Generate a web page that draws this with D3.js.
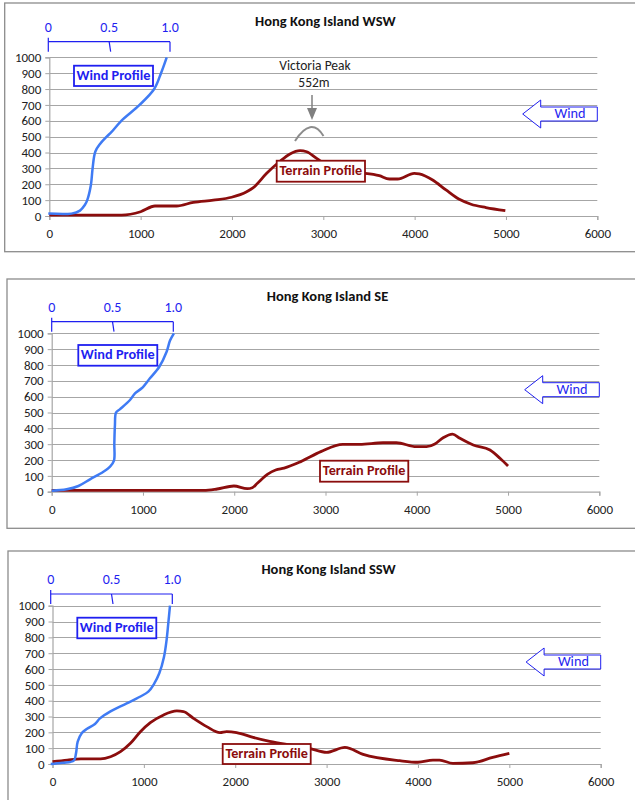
<!DOCTYPE html>
<html>
<head>
<meta charset="utf-8">
<script src="https://cdn.jsdelivr.net/npm/d3@7"></script>
<style>
  html, body { margin: 0; padding: 0; background: #fff; }
  svg { display: block; font-family: Carlito, Lato, "Liberation Sans", sans-serif; }
</style>
</head>
<body>
<svg id="chart" width="635" height="800"></svg>
<script>
// ---------------- DATA ----------------
const panelTitles = ["Hong Kong Island WSW", "Hong Kong Island SE", "Hong Kong Island SSW"];
const xTicks = [0, 1000, 2000, 3000, 4000, 5000, 6000];
const yTicks = [0, 100, 200, 300, 400, 500, 600, 700, 800, 900, 1000];
const windTicks = [0, 0.5, 1.0];
const windTickLabels = ["0", "0.5", "1.0"];

// wind profiles: [normalised speed, height m]
const windWSW = [[0,15],[0.19,15],[0.26,34],[0.30,69],[0.32,100],[0.35,195],[0.364,300],[0.386,405],[0.425,454],[0.48,500],[0.52,530],[0.60,600],[0.75,700],[0.87,800],[0.926,900],[0.973,1000]];
const windSE = [[0,6],[0.123,15],[0.22,36],[0.315,78],[0.425,126],[0.48,158],[0.512,196],[0.515,305],[0.52,420],[0.529,499],[0.56,520],[0.644,579],[0.685,621],[0.74,653],[0.808,716],[0.885,789],[0.945,884],[0.973,954],[1.005,1000]];
const windSSW = [[0,0],[0.10,8],[0.19,21],[0.208,67],[0.222,141],[0.255,194],[0.296,221],[0.364,253],[0.405,288],[0.488,331],[0.625,383],[0.734,425],[0.803,457],[0.849,505],[0.893,573],[0.932,678],[0.953,783],[0.967,888],[0.981,1000]];

// terrain profiles: [distance m, elevation m]
const terrainWSW = [[0,6],[400,6],[792,6],[1000,27],[1157,63],[1394,63],[1577,86],[1796,100],[1996,118],[2161,153],[2234,179],[2380,269],[2526,345],[2635,391],[2745,412],[2818,405],[2927,363],[3100,300],[3300,275],[3449,269],[3613,254],[3723,233],[3814,233],[3996,269],[4051,265],[4197,227],[4343,164],[4489,105],[4617,74],[4781,53],[4993,34]];
const terrainSE = [[0,8],[800,8],[1667,8],[1813,17],[1996,36],[2143,19],[2198,25],[2253,53],[2363,109],[2454,137],[2546,149],[2729,190],[2949,253],[3190,299],[3374,299],[3630,309],[3777,309],[3996,284],[4106,284],[4198,301],[4289,341],[4392,364],[4473,337],[4619,295],[4802,263],[4912,211],[5000,162]];
const terrainSSW = [[0,15],[163,25],[309,32],[526,32],[635,46],[744,78],[853,131],[962,204],[1071,261],[1216,310],[1361,335],[1434,331],[1543,288],[1688,236],[1833,198],[1906,204],[2015,198],[2196,168],[2377,143],[2595,120],[2813,99],[3000,74],[3200,105],[3400,61],[3800,21],[4000,11],[4164,25],[4236,25],[4382,4],[4600,8],[4818,42],[5000,67]];

const peakLabel = ["Victoria Peak", "552m"];

// ---------------- LAYOUT ----------------
const panels = [
  { title: panelTitles[0], wind: windWSW, terrain: terrainWSW,
    box: {x: 4.7, y: 3, h: 248.7}, px0: 49.3, px1: 597.3, py0: 216, py1: 57.3,
    titleY: 22, wAxisY: 41.7, wx0: 48.3, wx1: 170,
    windBox: {x: 74, y: 65.7, w: 79, h: 20.3},
    terrBox: {x: 276.7, y: 160.7, w: 88.3, h: 21},
    peak: true },
  { title: panelTitles[1], wind: windSE, terrain: terrainSE,
    box: {x: 7, y: 279, h: 249.3}, px0: 51.7, px1: 599.3, py0: 491.7, py1: 333.3,
    titleY: 297.7, wAxisY: 321.7, wx0: 51.7, wx1: 173.3,
    windBox: {x: 78.3, y: 345, w: 79, h: 20.7},
    terrBox: {x: 320, y: 460.7, w: 88.3, h: 21},
    peak: false },
  { title: panelTitles[2], wind: windSSW, terrain: terrainSSW,
    box: {x: 8, y: 551, h: 260}, px0: 52.5, px1: 600.7, py0: 764, py1: 605.7,
    titleY: 570.7, wAxisY: 594, wx0: 50.7, wx1: 172.3,
    windBox: {x: 77.3, y: 617.7, w: 79, h: 20.6},
    terrBox: {x: 222.7, y: 744, w: 88, h: 20},
    peak: false }
];

const RED = "#8B0D0D";
const BLUE = "#3F7BF4";
const TEXTBLUE = "#1F1FF0";
const GRID = "#A6A6A6";
const TXT = "#222";
const FONT = "Carlito, Lato, sans-serif";

const svg = d3.select("#chart");

panels.forEach(p => {
  const g = svg.append("g");

  // outer chart border
  g.append("rect")
    .attr("x", p.box.x).attr("y", p.box.y)
    .attr("width", 700).attr("height", p.box.h)
    .attr("fill", "#fff").attr("stroke", "#8C8C8C").attr("stroke-width", 1.3);

  const x = d3.scaleLinear().domain([0, 6000]).range([p.px0, p.px1]);
  const y = d3.scaleLinear().domain([0, 1000]).range([p.py0, p.py1]);
  const xw = d3.scaleLinear().domain([0, 1]).range([p.wx0, p.wx1]);

  // gridlines
  g.append("g").selectAll("line").data(yTicks.filter(d => d > 0)).join("line")
    .attr("x1", x(0)).attr("x2", x(6000))
    .attr("y1", d => Math.round(y(d)) + 0.5).attr("y2", d => Math.round(y(d)) + 0.5)
    .attr("stroke", GRID).attr("stroke-width", 1.2);

  // y axis
  const yAxis = g.append("g").attr("transform", `translate(${x(0)},0)`)
    .call(d3.axisLeft(y).tickValues(yTicks).tickSize(4).tickPadding(4).tickFormat(d3.format("d")));
  yAxis.select(".domain").attr("stroke", GRID).attr("stroke-width", 1.2);
  yAxis.selectAll(".tick line").attr("stroke", GRID);
  yAxis.selectAll("text").attr("font-size", 13).attr("fill", TXT).attr("font-family", FONT);

  // x axis
  const xAxis = g.append("g").attr("transform", `translate(0,${y(0)})`)
    .call(d3.axisBottom(x).tickValues(xTicks).tickSize(4).tickPadding(9).tickFormat(d3.format("d")));
  xAxis.select(".domain").attr("stroke", GRID).attr("stroke-width", 1.2);
  xAxis.selectAll(".tick line").attr("stroke", GRID);
  xAxis.selectAll("text").attr("font-size", 13).attr("fill", TXT).attr("font-family", FONT);

  // title
  g.append("text").attr("x", (p.px0 + p.px1) / 2 + 2).attr("y", p.titleY)
    .attr("text-anchor", "middle").attr("dominant-baseline", "middle")
    .attr("font-weight", "bold").attr("font-size", 14.5).attr("fill", "#111")
    .text(p.title);

  // terrain line
  const line = d3.line().x(d => x(d[0])).y(d => y(d[1])).curve(d3.curveMonotoneX);
  g.append("path").datum(p.terrain).attr("d", line)
    .attr("fill", "none").attr("stroke", RED).attr("stroke-width", 2.8).attr("stroke-linejoin", "round");

  // wind line
  const wline = d3.line().x(d => xw(d[0])).y(d => y(d[1])).curve(d3.curveCatmullRom.alpha(0.5));
  g.append("path").datum(p.wind).attr("d", wline)
    .attr("fill", "none").attr("stroke", BLUE).attr("stroke-width", 2.5).attr("stroke-linejoin", "round");

  // wind speed (top) axis
  const wa = g.append("g");
  wa.append("line").attr("x1", xw(0)).attr("x2", xw(1)).attr("y1", p.wAxisY).attr("y2", p.wAxisY)
    .attr("stroke", TEXTBLUE).attr("stroke-width", 1.2);
  wa.selectAll("line.tk").data(windTicks).join("line").attr("class", "tk")
    .attr("x1", d => xw(d)).attr("x2", d => xw(d) + (d === 0.5 ? 1.5 : 0))
    .attr("y1", d => d === 0 ? p.wAxisY - 4 : p.wAxisY).attr("y2", p.wAxisY + 10)
    .attr("stroke", TEXTBLUE).attr("stroke-width", 1.2);
  wa.selectAll("text").data(windTicks).join("text")
    .attr("x", d => xw(d)).attr("y", p.wAxisY - 13.5)
    .attr("text-anchor", "middle").attr("dominant-baseline", "middle")
    .attr("font-size", 14).attr("fill", TEXTBLUE)
    .text((d, i) => windTickLabels[i]);

  // Wind Profile label box
  g.append("rect").attr("x", p.windBox.x).attr("y", p.windBox.y)
    .attr("width", p.windBox.w).attr("height", p.windBox.h)
    .attr("fill", "#fff").attr("stroke", TEXTBLUE).attr("stroke-width", 1.8);
  g.append("text").attr("x", p.windBox.x + p.windBox.w / 2).attr("y", p.windBox.y + p.windBox.h / 2 + 0.5)
    .attr("text-anchor", "middle").attr("dominant-baseline", "middle")
    .attr("font-weight", "bold").attr("font-size", 14.3).attr("fill", TEXTBLUE)
    .text("Wind Profile");

  // Terrain Profile label box
  g.append("rect").attr("x", p.terrBox.x).attr("y", p.terrBox.y)
    .attr("width", p.terrBox.w).attr("height", p.terrBox.h)
    .attr("fill", "#fff").attr("stroke", RED).attr("stroke-width", 1.8);
  g.append("text").attr("x", p.terrBox.x + p.terrBox.w / 2).attr("y", p.terrBox.y + p.terrBox.h / 2 + 0.5)
    .attr("text-anchor", "middle").attr("dominant-baseline", "middle")
    .attr("font-weight", "bold").attr("font-size", 14.2).attr("fill", RED)
    .text("Terrain Profile");

  // Wind direction arrow (left-pointing, outlined)
  const tipX = p.px1 - 74.6, tipY = p.py0 - 102;
  const backX = tipX + 18;
  const pts = [[tipX, tipY], [backX, tipY - 14], [backX, tipY - 7], [p.px1, tipY - 7],
               [p.px1, tipY + 7], [backX, tipY + 7], [backX, tipY + 14]];
  g.append("polygon").attr("points", pts.map(d => d.join(",")).join(" "))
    .attr("fill", "#fff").attr("stroke", TEXTBLUE).attr("stroke-width", 1);
  g.append("text").attr("x", (backX + p.px1) / 2 + 1).attr("y", tipY + 0.5)
    .attr("text-anchor", "middle").attr("dominant-baseline", "middle")
    .attr("font-size", 14.3).attr("fill", TEXTBLUE).text("Wind");

  // Victoria Peak annotation
  if (p.peak) {
    const cx = 312;
    g.append("text").attr("x", 315).attr("y", 67).attr("text-anchor", "middle")
      .attr("dominant-baseline", "middle").attr("font-size", 13.5).attr("fill", "#222").text(peakLabel[0]);
    g.append("text").attr("x", 314).attr("y", 84).attr("text-anchor", "middle")
      .attr("dominant-baseline", "middle").attr("font-size", 13.5).attr("fill", "#222").text(peakLabel[1]);
    g.append("line").attr("x1", cx).attr("x2", cx).attr("y1", 95).attr("y2", 110)
      .attr("stroke", "#808080").attr("stroke-width", 1.5);
    g.append("polygon").attr("points", `${cx-5},108 ${cx+5},108 ${cx},120`).attr("fill", "#808080");
    g.append("path").attr("d", "M295,141 Q311,116 323.5,136")
      .attr("fill", "none").attr("stroke", "#8C8C8C").attr("stroke-width", 2);
  }
});
</script>
</body>
</html>
